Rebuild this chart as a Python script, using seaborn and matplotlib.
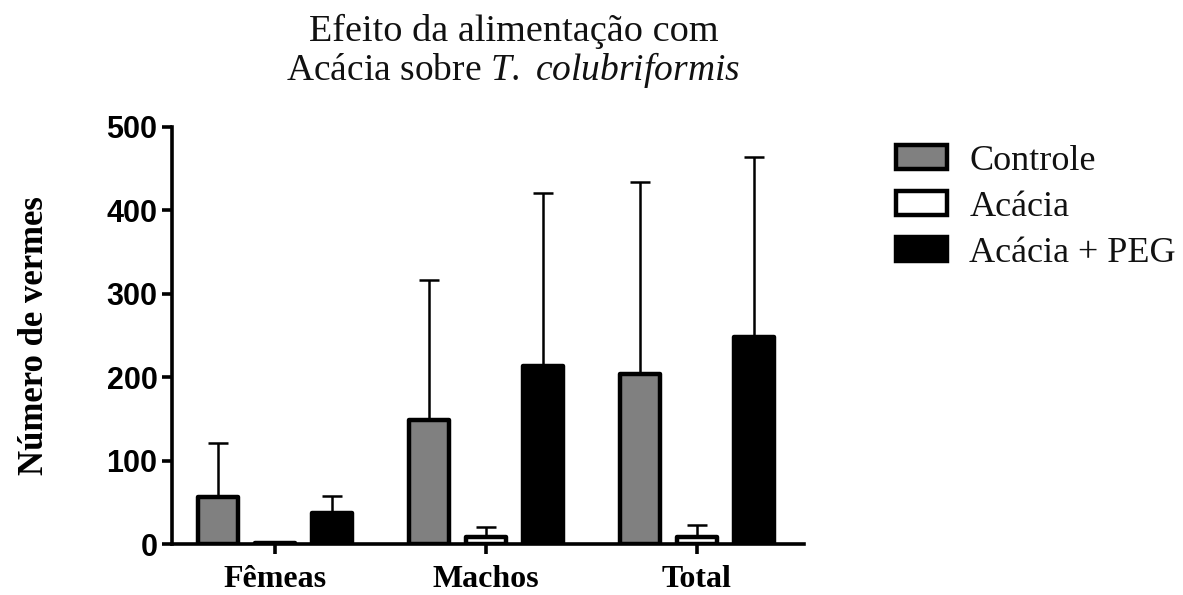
import matplotlib
matplotlib.use("Agg")
import matplotlib.pyplot as plt
import seaborn as sns
import pandas as pd
import numpy as np
from matplotlib.patches import Patch

# Worm counts (mean and upper SD) per sex and treatment
groups = ["Fêmeas", "Machos", "Total"]
treatments = ["Controle", "Acácia", "Acácia + PEG"]
controle_mean = [56, 149, 204]
acacia_mean = [1, 8, 8]
peg_mean = [37, 213, 248]
controle_sd = [65, 168, 230]
acacia_sd = [0, 12, 15]
peg_sd = [20, 208, 216]
colors = ["#808080", "#ffffff", "#000000"]

means = [controle_mean, acacia_mean, peg_mean]
sds = [controle_sd, acacia_sd, peg_sd]
df = pd.DataFrame({
    "grupo": [g for _ in treatments for g in groups],
    "tratamento": [t for t in treatments for _ in groups],
    "valor": [v for m in means for v in m],
})

sns.set_style("ticks")
plt.rcParams["mathtext.fontset"] = "custom"
plt.rcParams["mathtext.rm"] = "Liberation Serif"
plt.rcParams["mathtext.it"] = "Liberation Serif:italic"

fig = plt.figure(figsize=(11.83, 5.95), dpi=100)
ax = fig.add_axes([0.1454, 0.0857, 0.5346, 0.7009])

sns.barplot(data=df, x="grupo", y="valor", hue="tratamento", order=groups,
            hue_order=treatments, palette=colors, errorbar=None, width=0.81,
            gap=0.3, edgecolor="black", linewidth=3.2, ax=ax, legend=False,
            saturation=1)

for p in ax.patches:
    p.set_joinstyle("round")

# Upper-only error bars placed on each bar centre
for ti, t in enumerate(treatments):
    bars = ax.containers[ti]
    xs = [b.get_x() + b.get_width() / 2 for b in bars]
    sd = sds[ti]
    ax.errorbar(xs, means[ti], yerr=[np.zeros(len(sd)), sd], fmt="none",
                ecolor="black", elinewidth=1.8, capsize=7.5, capthick=1.8,
                zorder=1)

ax.set_xlim(-0.49, 2.51)
ax.set_ylim(0, 500)
ax.set_yticks([0, 100, 200, 300, 400, 500])
sns.despine(ax=ax)
for s in ["left", "bottom"]:
    ax.spines[s].set_linewidth(2.6)
    ax.spines[s].set_color("black")
ax.tick_params(axis="both", width=2.6, length=7, direction="out",
               color="black", labelcolor="black")
ax.tick_params(axis="x", pad=8)
for lab in ax.get_yticklabels():
    lab.set_fontfamily("Liberation Sans")
    lab.set_fontweight("bold")
    lab.set_fontsize(22)
for lab in ax.get_xticklabels():
    lab.set_fontfamily("Liberation Serif")
    lab.set_fontweight("bold")
    lab.set_fontsize(23)
ax.set_xlabel("")
ax.set_ylabel("Número de vermes", fontfamily="Liberation Serif",
              fontweight="bold", fontsize=25, color="black")
ax.yaxis.set_label_coords(-0.191, 0.5)

fig.text(0.434, 0.947, "Efeito da alimentação com", ha="center", va="center",
         fontfamily="Liberation Serif", fontsize=27.5, color="#111111")
fig.text(0.434, 0.883, r"Acácia sobre $\it{T.}$ $\it{colubriformis}$",
         ha="center", va="center", fontfamily="Liberation Serif",
         fontsize=27, color="#111111")

handles = [Patch(facecolor=c, edgecolor="black", linewidth=3.2,
                 joinstyle="round") for c in colors]
ax.legend(handles, treatments, loc="upper left",
          bbox_to_anchor=(1.093, 1.035), frameon=False,
          prop={"family": "Liberation Serif", "size": 26},
          labelcolor="#111111",
          handlelength=1.42, handleheight=0.62, labelspacing=0.36,
          handletextpad=0.62)

fig.savefig("out.png", dpi=100)
